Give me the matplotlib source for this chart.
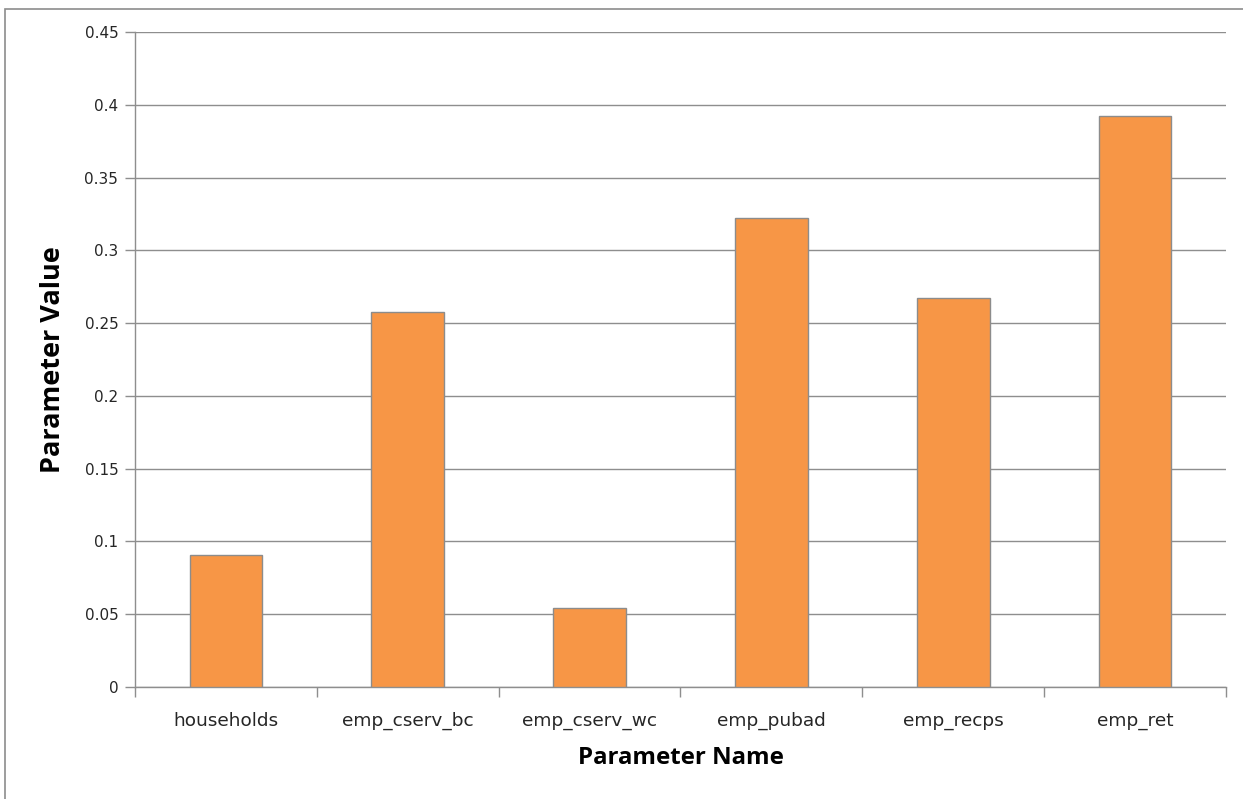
import matplotlib
matplotlib.use("Agg")
import matplotlib.pyplot as plt
from matplotlib.patches import Rectangle
from matplotlib.ticker import FixedLocator

categories = ["households", "emp_cserv_bc", "emp_cserv_wc", "emp_pubad", "emp_recps", "emp_ret"]
values = [0.0907, 0.2576, 0.0543, 0.3222, 0.2672, 0.3923]
y_ticks = [0, 0.05, 0.1, 0.15, 0.2, 0.25, 0.3, 0.35, 0.4, 0.45]
y_tick_labels = ["0", "0.05", "0.1", "0.15", "0.2", "0.25", "0.3", "0.35", "0.4", "0.45"]

W, H = 1243, 799
fig = plt.figure(figsize=(W / 100, H / 100), dpi=100)
fig.patch.set_facecolor("white")

# outer chart frame
fig.add_artist(Rectangle((5 / W, -0.01), 1.02, 1 - 9 / H + 0.01, transform=fig.transFigure,
                         fill=False, edgecolor="#8c8c8c", linewidth=1.2))

ax = fig.add_axes([135 / W, 1 - 687 / H, (1226 - 135) / W, (687 - 32) / H])
ax.set_facecolor("white")

grid_c = "#8e8e8e"
x = list(range(len(categories)))
ax.bar(x, values, width=0.4, color="#F79646", edgecolor="#8c8c8c", linewidth=1.0, zorder=3)

ax.set_xlim(-0.5, len(categories) - 0.5)
ax.set_ylim(0, 0.45)
ax.set_yticks(y_ticks)
ax.set_yticklabels(y_tick_labels)
ax.yaxis.grid(True, color=grid_c, linewidth=1.0, zorder=0)
ax.set_axisbelow(True)

# category labels centred, tick marks on category boundaries
ax.set_xticks(x)
ax.set_xticklabels(categories)
ax.xaxis.set_minor_locator(FixedLocator([i - 0.5 for i in range(len(categories) + 1)]))
ax.tick_params(axis="x", which="major", length=0, pad=18, labelsize=13.3, labelcolor="#262626")
ax.tick_params(axis="x", which="minor", length=7, width=1.0, color=grid_c, direction="out")
ax.tick_params(axis="y", which="major", length=7, width=1.0, color=grid_c, direction="out",
               pad=5, labelsize=11, labelcolor="#262626")

for side in ["top", "right"]:
    ax.spines[side].set_visible(False)
for side in ["left", "bottom"]:
    ax.spines[side].set_color(grid_c)
    ax.spines[side].set_linewidth(1.0)

for lab in ax.get_xticklabels() + ax.get_yticklabels():
    lab.set_family("DejaVu Sans")

ax.set_xlabel("Parameter Name", fontsize=17.3, fontweight="bold", family="Open Sans",
              labelpad=11, color="black")
ax.set_ylabel("Parameter Value", fontsize=19.5, fontweight="bold", family="Open Sans",
              labelpad=13.5, color="black")

fig.savefig("out.png", dpi=100, facecolor="white")
